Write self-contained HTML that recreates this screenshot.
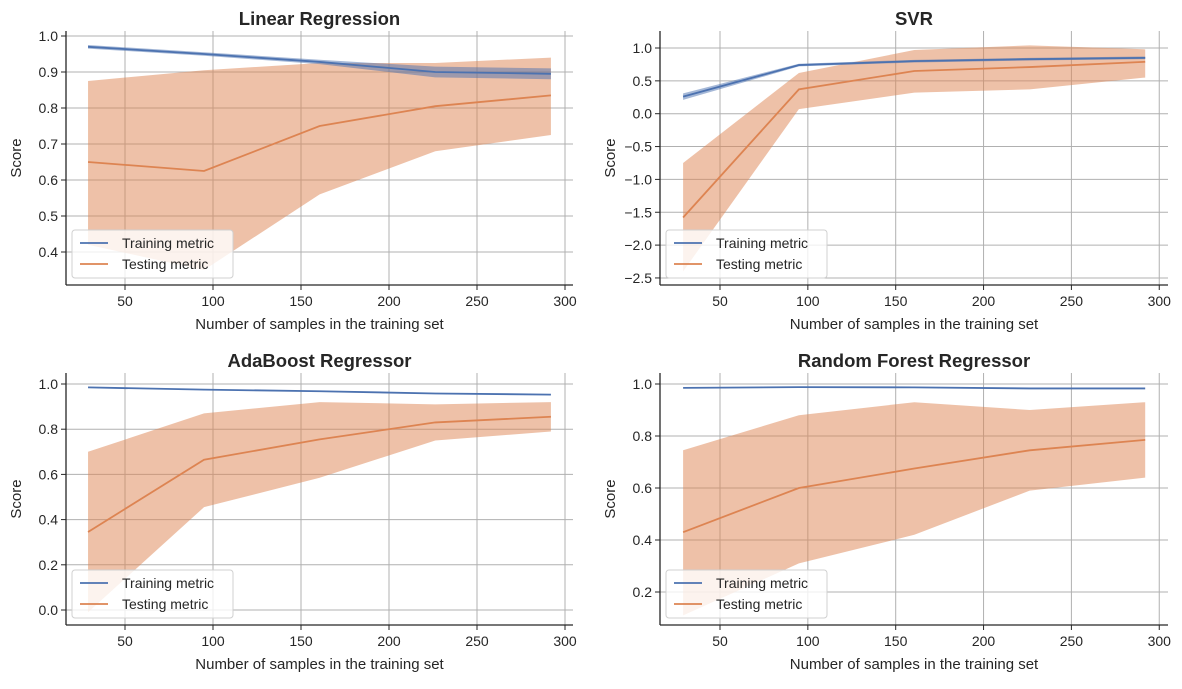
<!DOCTYPE html>
<html><head><meta charset="utf-8"><style>
body{margin:0;background:#fff;font-family:"Liberation Sans",sans-serif;}
svg text{font-family:"Liberation Sans",sans-serif;fill:#262626;}
</style></head><body>
<svg id="fig" width="1182" height="684" xmlns="http://www.w3.org/2000/svg"></svg>
<script>
const xs = [29, 94.9, 160.6, 226.3, 292];
const xTicks = [50,100,150,200,250,300];
const lrTrain = [0.97,0.95,0.928,0.90,0.895];
const lrTrainLo = [0.965,0.945,0.922,0.885,0.88];
const lrTrainHi = [0.975,0.955,0.934,0.915,0.91];
const lrTest = [0.65,0.625,0.75,0.805,0.835];
const lrTestLo = [0.42,0.35,0.56,0.68,0.725];
const lrTestHi = [0.875,0.905,0.925,0.925,0.94];
const svrTrain = [0.26,0.74,0.80,0.83,0.85];
const svrTrainLo = [0.21,0.72,0.78,0.81,0.83];
const svrTrainHi = [0.31,0.76,0.82,0.85,0.87];
const svrTest = [-1.58,0.37,0.65,0.71,0.79];
const svrTestLo = [-2.4,0.07,0.32,0.37,0.55];
const svrTestHi = [-0.75,0.62,0.97,1.04,0.98];
const adaTrain = [0.985,0.975,0.968,0.958,0.953];
const adaTest = [0.345,0.665,0.755,0.83,0.855];
const adaTestLo = [-0.01,0.455,0.585,0.75,0.79];
const adaTestHi = [0.70,0.87,0.92,0.91,0.92];
const rfTrain = [0.985,0.988,0.987,0.983,0.983];
const rfTest = [0.43,0.60,0.675,0.745,0.785];
const rfTestLo = [0.11,0.31,0.42,0.59,0.64];
const rfTestHi = [0.745,0.88,0.93,0.90,0.93];
const lrYTicks=[0.4,0.5,0.6,0.7,0.8,0.9,1.0];
const svrYTicks=[-2.5,-2.0,-1.5,-1.0,-0.5,0.0,0.5,1.0];
const adaYTicks=[0.0,0.2,0.4,0.6,0.8,1.0];
const rfYTicks=[0.2,0.4,0.6,0.8,1.0];

const NS="http://www.w3.org/2000/svg";
const fig=document.getElementById('fig');
function mk(tag,attrs,parent){const e=document.createElementNS(NS,tag);for(const k in attrs)e.setAttribute(k,attrs[k]);(parent||fig).appendChild(e);return e;}

function panel(o){
  const g=mk('g',{});
  
  
  const X=v=>o.x0+(v-o.xv0)*o.xs;
  const Y=v=>o.yb-(v-o.yv0)*o.ys;
  xTicks.forEach(t=>{const l=mk('line',{x1:X(t),x2:X(t),y1:o.top,y2:o.bottom,stroke:'#b0b0b0','stroke-width':1},g);
    });
  o.yTicks.forEach(t=>{const l=mk('line',{x1:o.left,x2:o.right,y1:Y(t),y2:Y(t),stroke:'#b0b0b0','stroke-width':1},g);
    });
  function band(lo,hi,color,op,nm){
    let d='M'+xs.map((x,i)=>X(x)+','+Y(hi[i])).join('L')+'L'+xs.slice().reverse().map((x,j)=>{const i=xs.length-1-j;return X(x)+','+Y(lo[i]);}).join('L')+'Z';
    const p=mk('path',{d:d,fill:color,'fill-opacity':op,stroke:'none'},g);
    
  }
  function line(v,color,nm){
    const p=mk('polyline',{points:xs.map((x,i)=>X(x)+','+Y(v[i])).join(' '),fill:'none',stroke:color,'stroke-width':1.8},g);
    
  }
  band(o.testLo,o.testHi,'#dd8452',0.5,'testing-band');
  if(o.trainLo) band(o.trainLo,o.trainHi,'#4c72b0',0.5,'training-band');
  line(o.train,'#4c72b0','training-line');
  line(o.test,'#dd8452','testing-line');
  mk('line',{x1:o.left,x2:o.left,y1:o.top,y2:o.bottom,stroke:'#262626','stroke-width':1.3},g);
  mk('line',{x1:o.left,x2:o.right,y1:o.bottom,y2:o.bottom,stroke:'#262626','stroke-width':1.3},g);
  xTicks.forEach(t=>{mk('line',{x1:X(t),x2:X(t),y1:o.bottom,y2:o.bottom+5,stroke:'#262626'},g);
    const tx=mk('text',{x:X(t),y:o.bottom+21,'text-anchor':'middle','font-size':14},g);tx.textContent=t;
    });
  o.yTicks.forEach(t=>{mk('line',{x1:o.left-5,x2:o.left,y1:Y(t),y2:Y(t),stroke:'#262626'},g);
    const tx=mk('text',{x:o.left-8,y:Y(t)+5,'text-anchor':'end','font-size':14},g);tx.textContent=t.toFixed(1).replace('-','\u2212');
    });
  const tt=mk('text',{x:(o.left+o.right)/2,y:o.top-6,'text-anchor':'middle','font-size':18.5,'font-weight':'bold'},g);tt.textContent=o.title;
  
  const xl=mk('text',{x:(o.left+o.right)/2,y:o.bottom+44,'text-anchor':'middle','font-size':15},g);xl.textContent='Number of samples in the training set';
  
  const cy=(o.top+o.bottom)/2;
  const yx=o.left-45;
  const yl=mk('text',{x:yx,y:cy,'text-anchor':'middle','font-size':15,transform:`rotate(-90 ${yx} ${cy})`},g);yl.textContent='Score';
  
  const lg=mk('g',{},g);
  
  const lx=o.left+6, ly=o.bottom-55;
  mk('rect',{x:lx,y:ly,width:161,height:48,rx:3,fill:'#fff','fill-opacity':0.8,stroke:'#d0d0d0'},lg);
  [['Training metric','#4c72b0'],['Testing metric','#dd8452']].forEach((e,i)=>{
    const yy=ly+13+i*21;
    mk('line',{x1:lx+8,x2:lx+36,y1:yy,y2:yy,stroke:e[1],'stroke-width':1.8},lg);
    const t=mk('text',{x:lx+50,y:yy+5,'font-size':14},lg);t.textContent=e[0];
    
  });
}
panel({name:'linear-regression-panel',title:'Linear Regression',left:66,right:573,top:31,bottom:285,x0:125,xv0:50,xs:1.76,yb:36,yv0:1.0,ys:360,yTicks:lrYTicks,
  train:lrTrain,trainLo:lrTrainLo,trainHi:lrTrainHi,test:lrTest,testLo:lrTestLo,testHi:lrTestHi});
panel({name:'svr-panel',title:'SVR',left:660,right:1168,top:31,bottom:285,x0:720,xv0:50,xs:1.757,yb:48,yv0:1.0,ys:65.7,yTicks:svrYTicks,
  train:svrTrain,trainLo:svrTrainLo,trainHi:svrTrainHi,test:svrTest,testLo:svrTestLo,testHi:svrTestHi});
panel({name:'adaboost-panel',title:'AdaBoost Regressor',left:66,right:573,top:373,bottom:625,x0:125,xv0:50,xs:1.76,yb:384,yv0:1.0,ys:226,yTicks:adaYTicks,
  train:adaTrain,test:adaTest,testLo:adaTestLo,testHi:adaTestHi});
panel({name:'random-forest-panel',title:'Random Forest Regressor',left:660,right:1168,top:373,bottom:625,x0:720,xv0:50,xs:1.757,yb:384,yv0:1.0,ys:260,yTicks:rfYTicks,
  train:rfTrain,test:rfTest,testLo:rfTestLo,testHi:rfTestHi});
</script>
</body></html>
